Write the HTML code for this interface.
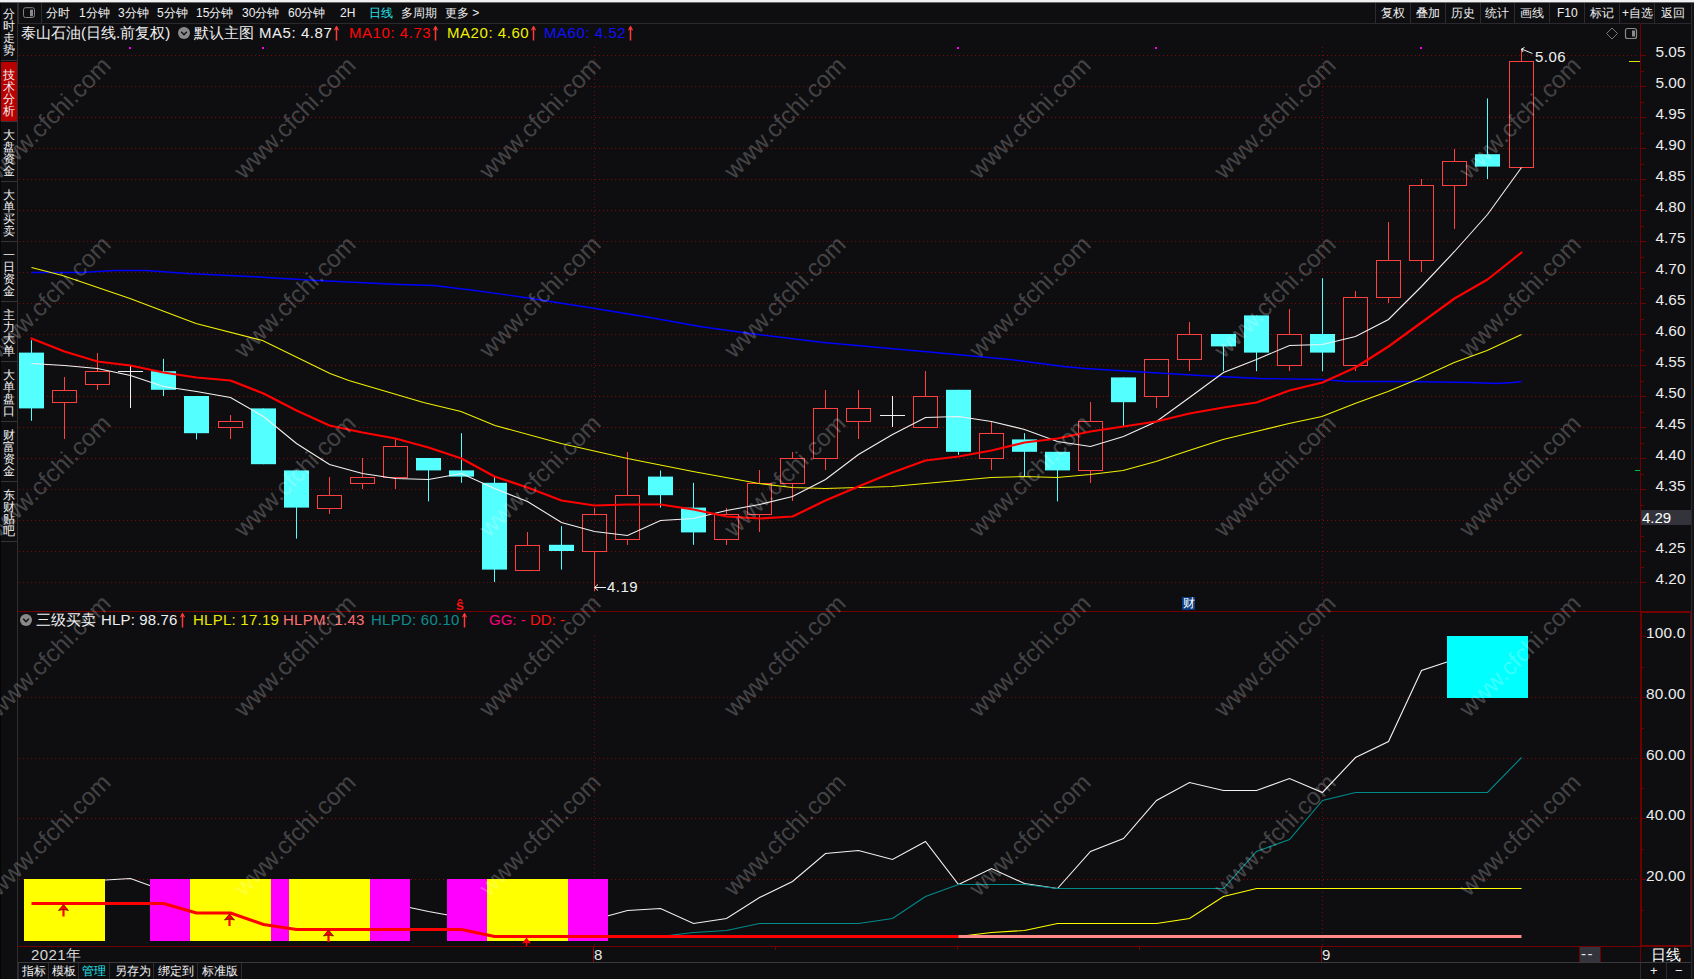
<!DOCTYPE html><html lang="zh"><head><meta charset="utf-8"><title>chart</title><style>
*{margin:0;padding:0;box-sizing:border-box}
html,body{width:1694px;height:979px;overflow:hidden;background:#0e0e11}
body{position:relative;font-family:"Liberation Sans",sans-serif;color:#f0f0f0}
.a{position:absolute;white-space:nowrap}
.t12{font-size:12px;line-height:14px}
.t15{font-size:15px;line-height:18px}
.ax{position:absolute;left:1655.5px;font-size:15.4px;line-height:16px;color:#ececec}
.tb{position:absolute;top:6px;font-size:12px;line-height:14px;color:#f0f0f0;white-space:nowrap}
.vs{position:absolute;top:3px;width:1px;height:20px;background:#2c2c30}
.side{position:absolute;left:1px;width:16px;height:60px;border-bottom:1px solid #333338;background-clip:padding-box;font-size:12px;line-height:12px;text-align:center;padding-top:7px;color:#f0f0f0}
.side span{display:block;height:12px}
.wm{position:absolute;font-size:24.2px;line-height:24px;color:rgba(255,255,255,.235);transform:translate(-50%,-50%) rotate(-45deg);white-space:nowrap;pointer-events:none}
.bt{position:absolute;top:964px;font-size:12px;line-height:14px;white-space:nowrap}
.bs{position:absolute;top:963px;width:1px;height:16px;background:#2c2c30}
</style></head><body>
<div class="a" style="left:0;top:0;width:1694px;height:2px;background:#f0f0f0"></div>
<div class="a" style="left:0;top:2px;width:1694px;height:1px;background:#6a6a6a"></div>
<div class="a" style="left:18px;top:23px;width:1673px;height:1px;background:#2a2a2e"></div>
<div class="a" style="left:1691px;top:3px;width:1px;height:976px;background:#2a2a2e"></div><div class="a" style="left:1692px;top:3px;width:2px;height:976px;background:#151517"></div>
<div class="a" style="left:17px;top:3px;width:1px;height:976px;background:#2e2e33"></div>
<div class="a" style="left:0;top:3px;width:1px;height:976px;background:#050506"></div>
<div class="side" style="top:3px;height:58px;padding-top:5px;"><span>分</span><span>时</span><span>走</span><span>势</span></div>
<div class="side" style="top:62px;background:#b80000;"><span>技</span><span>术</span><span>分</span><span>析</span></div>
<div class="side" style="top:122px;"><span>大</span><span>盘</span><span>资</span><span>金</span></div>
<div class="side" style="top:182px;"><span>大</span><span>单</span><span>买</span><span>卖</span></div>
<div class="side" style="top:242px;"><span>一</span><span>日</span><span>资</span><span>金</span></div>
<div class="side" style="top:302px;"><span>主</span><span>力</span><span>大</span><span>单</span></div>
<div class="side" style="top:362px;"><span>大</span><span>单</span><span>盘</span><span>口</span></div>
<div class="side" style="top:422px;"><span>财</span><span>富</span><span>资</span><span>金</span></div>
<div class="side" style="top:482px;"><span>东</span><span>财</span><span>贴</span><span>吧</span></div>
<svg class="a" style="left:22px;top:7px" width="14" height="12"><rect x="1.5" y="0.7" width="11" height="9.8" rx="2" fill="none" stroke="#808080" stroke-width="1"/><rect x="8" y="2.7" width="3" height="6.6" fill="#8a8a8a"/></svg>
<div class="vs" style="left:41px"></div><div class="vs" style="left:18px"></div>
<div class="tb" style="left:46px;">分时</div>
<div class="tb" style="left:79px;">1分钟</div>
<div class="tb" style="left:118px;">3分钟</div>
<div class="tb" style="left:157px;">5分钟</div>
<div class="tb" style="left:196px;">15分钟</div>
<div class="tb" style="left:242px;">30分钟</div>
<div class="tb" style="left:288px;">60分钟</div>
<div class="tb" style="left:340px;">2H</div>
<div class="tb" style="left:369px;color:#22e6ee">日线</div>
<div class="tb" style="left:401px;">多周期</div>
<div class="tb" style="left:445px;">更多 &gt;</div>
<div class="vs" style="left:1375px"></div>
<div class="vs" style="left:1410px"></div>
<div class="vs" style="left:1445px"></div>
<div class="vs" style="left:1480px"></div>
<div class="vs" style="left:1514px"></div>
<div class="vs" style="left:1549px"></div>
<div class="vs" style="left:1584px"></div>
<div class="vs" style="left:1619px"></div>
<div class="vs" style="left:1654px"></div>
<div class="vs" style="left:1691px"></div>
<div class="tb" style="left:1381px">复权</div>
<div class="tb" style="left:1416px">叠加</div>
<div class="tb" style="left:1451px">历史</div>
<div class="tb" style="left:1485px">统计</div>
<div class="tb" style="left:1520px">画线</div>
<div class="tb" style="left:1557px">F10</div>
<div class="tb" style="left:1590px">标记</div>
<div class="tb" style="left:1622px">+自选</div>
<div class="tb" style="left:1661px">返回</div>
<div class="a t15" style="left:21px;top:24px">泰山石油(日线.前复权)</div>
<svg class="a" style="left:178px;top:27px" width="12" height="12"><circle cx="6" cy="6" r="6" fill="#8a8a8a"/><path d="M3.2 4.8 L6 7.8 L8.8 4.8" stroke="#0e0e11" stroke-width="1.4" fill="none"/></svg>
<div class="a t15" style="left:194px;top:24px">默认主图</div>
<div class="a t15" style="left:259px;top:24px"><span style="letter-spacing:.55px">MA5: 4.87</span><svg width="7" height="15" viewBox="0 0 7 15" style="vertical-align:-2.5px;margin-left:1px"><path d="M3.5 1 V14.5" stroke="#ff3838" stroke-width="1.5" fill="none"/><path d="M1.5 4.2 L3.5 0.6 L5.5 4.2" stroke="#ff3838" stroke-width="1.2" fill="none"/></svg></div>
<div class="a t15" style="left:349px;top:24px;color:#ff0808"><span style="letter-spacing:.55px">MA10: 4.73</span><svg width="7" height="15" viewBox="0 0 7 15" style="vertical-align:-2.5px;margin-left:1px"><path d="M3.5 1 V14.5" stroke="#ff3838" stroke-width="1.5" fill="none"/><path d="M1.5 4.2 L3.5 0.6 L5.5 4.2" stroke="#ff3838" stroke-width="1.2" fill="none"/></svg></div>
<div class="a t15" style="left:447px;top:24px;color:#f0f000"><span style="letter-spacing:.55px">MA20: 4.60</span><svg width="7" height="15" viewBox="0 0 7 15" style="vertical-align:-2.5px;margin-left:1px"><path d="M3.5 1 V14.5" stroke="#ff3838" stroke-width="1.5" fill="none"/><path d="M1.5 4.2 L3.5 0.6 L5.5 4.2" stroke="#ff3838" stroke-width="1.2" fill="none"/></svg></div>
<div class="a t15" style="left:544px;top:24px;color:#1010ff"><span style="letter-spacing:.55px">MA60: 4.52</span><svg width="7" height="15" viewBox="0 0 7 15" style="vertical-align:-2.5px;margin-left:1px"><path d="M3.5 1 V14.5" stroke="#ff3838" stroke-width="1.5" fill="none"/><path d="M1.5 4.2 L3.5 0.6 L5.5 4.2" stroke="#ff3838" stroke-width="1.2" fill="none"/></svg></div>
<svg class="a" style="left:1605px;top:27px" width="34" height="14"><path d="M7 1 L12.5 6.5 L7 12 L1.5 6.5 Z" fill="none" stroke="#777" stroke-width="1"/><rect x="20.5" y="1.5" width="11" height="10" rx="2" fill="none" stroke="#8a8a8a" stroke-width="1.2"/><rect x="27" y="3.5" width="3" height="6" fill="#8a8a8a"/></svg>
<svg class="a" style="left:0;top:0" width="1694" height="979" viewBox="0 0 1694 979" shape-rendering="auto"><line x1="19" y1="55.5" x2="1637" y2="55.5" stroke="#780a0a" stroke-dasharray="1 3" stroke-dashoffset="0"/>
<line x1="19" y1="86.5" x2="1637" y2="86.5" stroke="#780a0a" stroke-dasharray="1 3" stroke-dashoffset="0"/>
<line x1="19" y1="117.5" x2="1637" y2="117.5" stroke="#780a0a" stroke-dasharray="1 3" stroke-dashoffset="0"/>
<line x1="19" y1="148.5" x2="1637" y2="148.5" stroke="#780a0a" stroke-dasharray="1 3" stroke-dashoffset="0"/>
<line x1="19" y1="179.5" x2="1637" y2="179.5" stroke="#780a0a" stroke-dasharray="1 3" stroke-dashoffset="0"/>
<line x1="19" y1="210.5" x2="1637" y2="210.5" stroke="#780a0a" stroke-dasharray="1 3" stroke-dashoffset="0"/>
<line x1="19" y1="241.5" x2="1637" y2="241.5" stroke="#780a0a" stroke-dasharray="1 3" stroke-dashoffset="0"/>
<line x1="19" y1="272.5" x2="1637" y2="272.5" stroke="#780a0a" stroke-dasharray="1 3" stroke-dashoffset="0"/>
<line x1="19" y1="303.5" x2="1637" y2="303.5" stroke="#780a0a" stroke-dasharray="1 3" stroke-dashoffset="0"/>
<line x1="19" y1="334.5" x2="1637" y2="334.5" stroke="#780a0a" stroke-dasharray="1 3" stroke-dashoffset="0"/>
<line x1="19" y1="365.5" x2="1637" y2="365.5" stroke="#780a0a" stroke-dasharray="1 3" stroke-dashoffset="0"/>
<line x1="19" y1="396.5" x2="1637" y2="396.5" stroke="#780a0a" stroke-dasharray="1 3" stroke-dashoffset="0"/>
<line x1="19" y1="427.5" x2="1637" y2="427.5" stroke="#780a0a" stroke-dasharray="1 3" stroke-dashoffset="0"/>
<line x1="19" y1="458.5" x2="1637" y2="458.5" stroke="#780a0a" stroke-dasharray="1 3" stroke-dashoffset="0"/>
<line x1="19" y1="489.5" x2="1637" y2="489.5" stroke="#780a0a" stroke-dasharray="1 3" stroke-dashoffset="0"/>
<line x1="19" y1="520.5" x2="1637" y2="520.5" stroke="#780a0a" stroke-dasharray="1 3" stroke-dashoffset="0"/>
<line x1="19" y1="551.5" x2="1637" y2="551.5" stroke="#780a0a" stroke-dasharray="1 3" stroke-dashoffset="0"/>
<line x1="19" y1="582.5" x2="1637" y2="582.5" stroke="#780a0a" stroke-dasharray="1 3" stroke-dashoffset="0"/>
<line x1="19" y1="879.5" x2="1637" y2="879.5" stroke="#780a0a" stroke-dasharray="1 3"/>
<line x1="19" y1="818.5" x2="1637" y2="818.5" stroke="#780a0a" stroke-dasharray="1 3"/>
<line x1="19" y1="758.5" x2="1637" y2="758.5" stroke="#780a0a" stroke-dasharray="1 3"/>
<line x1="19" y1="697.5" x2="1637" y2="697.5" stroke="#780a0a" stroke-dasharray="1 3"/>
<line x1="594.5" y1="47" x2="594.5" y2="611" stroke="#780a0a" stroke-dasharray="1 3"/>
<line x1="594.5" y1="636" x2="594.5" y2="946" stroke="#780a0a" stroke-dasharray="1 3"/>
<line x1="1322.5" y1="47" x2="1322.5" y2="611" stroke="#780a0a" stroke-dasharray="1 3"/>
<line x1="1322.5" y1="636" x2="1322.5" y2="946" stroke="#780a0a" stroke-dasharray="1 3"/>
<rect x="31" y="340.2" width="1" height="80.6" fill="#54ffff"/>
<rect x="19" y="352.6" width="25" height="55.8" fill="#54ffff"/>
<rect x="64" y="377" width="1" height="13" fill="#ff4040"/>
<rect x="64" y="402" width="1" height="37" fill="#ff4040"/>
<rect x="52.5" y="390.5" width="24" height="12" fill="none" stroke="#ff4040"/>
<rect x="97" y="353" width="1" height="18" fill="#ff4040"/>
<rect x="97" y="384" width="1" height="6" fill="#ff4040"/>
<rect x="85.5" y="371.5" width="24" height="13" fill="none" stroke="#ff4040"/>
<rect x="130" y="365" width="1" height="43" fill="#f0f0f0"/>
<rect x="118" y="371" width="25" height="1" fill="#f0f0f0"/>
<rect x="163" y="358.8" width="1" height="37.2" fill="#54ffff"/>
<rect x="151" y="371.2" width="25" height="18.6" fill="#54ffff"/>
<rect x="196" y="396.0" width="1" height="43.4" fill="#54ffff"/>
<rect x="184" y="396.0" width="25" height="37.2" fill="#54ffff"/>
<rect x="230" y="415" width="1" height="6" fill="#ff4040"/>
<rect x="230" y="427" width="1" height="12" fill="#ff4040"/>
<rect x="218.5" y="421.5" width="24" height="6" fill="none" stroke="#ff4040"/>
<rect x="263" y="408.4" width="1" height="55.8" fill="#54ffff"/>
<rect x="251" y="408.4" width="25" height="55.8" fill="#54ffff"/>
<rect x="296" y="470.4" width="1" height="68.2" fill="#54ffff"/>
<rect x="284" y="470.4" width="25" height="37.2" fill="#54ffff"/>
<rect x="329" y="477" width="1" height="18" fill="#ff4040"/>
<rect x="329" y="508" width="1" height="6" fill="#ff4040"/>
<rect x="317.5" y="495.5" width="24" height="13" fill="none" stroke="#ff4040"/>
<rect x="362" y="458" width="1" height="19" fill="#ff4040"/>
<rect x="362" y="483" width="1" height="6" fill="#ff4040"/>
<rect x="350.5" y="477.5" width="24" height="6" fill="none" stroke="#ff4040"/>
<rect x="395" y="439" width="1" height="7" fill="#ff4040"/>
<rect x="395" y="477" width="1" height="12" fill="#ff4040"/>
<rect x="383.5" y="446.5" width="24" height="31" fill="none" stroke="#ff4040"/>
<rect x="428" y="458.0" width="1" height="43.4" fill="#54ffff"/>
<rect x="416" y="458.0" width="25" height="12.4" fill="#54ffff"/>
<rect x="461" y="433.2" width="1" height="49.6" fill="#54ffff"/>
<rect x="449" y="470.4" width="25" height="6.2" fill="#54ffff"/>
<rect x="494" y="476.6" width="1" height="105.4" fill="#54ffff"/>
<rect x="482" y="482.8" width="25" height="86.8" fill="#54ffff"/>
<rect x="527" y="532" width="1" height="13" fill="#ff4040"/>
<rect x="515.5" y="545.5" width="24" height="25" fill="none" stroke="#ff4040"/>
<rect x="561" y="526.2" width="1" height="43.4" fill="#54ffff"/>
<rect x="549" y="544.8" width="25" height="6.2" fill="#54ffff"/>
<rect x="594" y="508" width="1" height="6" fill="#ff4040"/>
<rect x="594" y="551" width="1" height="40" fill="#ff4040"/>
<rect x="582.5" y="514.5" width="24" height="37" fill="none" stroke="#ff4040"/>
<rect x="627" y="452" width="1" height="43" fill="#ff4040"/>
<rect x="627" y="539" width="1" height="6" fill="#ff4040"/>
<rect x="615.5" y="495.5" width="24" height="44" fill="none" stroke="#ff4040"/>
<rect x="660" y="470.4" width="1" height="37.2" fill="#54ffff"/>
<rect x="648" y="476.6" width="25" height="18.6" fill="#54ffff"/>
<rect x="693" y="482.8" width="1" height="62.0" fill="#54ffff"/>
<rect x="681" y="507.6" width="25" height="24.8" fill="#54ffff"/>
<rect x="726" y="508" width="1" height="6" fill="#ff4040"/>
<rect x="726" y="539" width="1" height="6" fill="#ff4040"/>
<rect x="714.5" y="514.5" width="24" height="25" fill="none" stroke="#ff4040"/>
<rect x="759" y="470" width="1" height="13" fill="#ff4040"/>
<rect x="759" y="514" width="1" height="18" fill="#ff4040"/>
<rect x="747.5" y="483.5" width="24" height="31" fill="none" stroke="#ff4040"/>
<rect x="792" y="452" width="1" height="6" fill="#ff4040"/>
<rect x="792" y="483" width="1" height="18" fill="#ff4040"/>
<rect x="780.5" y="458.5" width="24" height="25" fill="none" stroke="#ff4040"/>
<rect x="825" y="390" width="1" height="18" fill="#ff4040"/>
<rect x="825" y="458" width="1" height="12" fill="#ff4040"/>
<rect x="813.5" y="408.5" width="24" height="50" fill="none" stroke="#ff4040"/>
<rect x="858" y="390" width="1" height="18" fill="#ff4040"/>
<rect x="858" y="421" width="1" height="18" fill="#ff4040"/>
<rect x="846.5" y="408.5" width="24" height="13" fill="none" stroke="#ff4040"/>
<rect x="892" y="396" width="1" height="31" fill="#f0f0f0"/>
<rect x="880" y="415" width="25" height="1" fill="#f0f0f0"/>
<rect x="925" y="371" width="1" height="25" fill="#ff4040"/>
<rect x="913.5" y="396.5" width="24" height="31" fill="none" stroke="#ff4040"/>
<rect x="958" y="389.8" width="1" height="65.1" fill="#54ffff"/>
<rect x="946" y="389.8" width="25" height="62.0" fill="#54ffff"/>
<rect x="991" y="421" width="1" height="12" fill="#ff4040"/>
<rect x="991" y="458" width="1" height="12" fill="#ff4040"/>
<rect x="979.5" y="433.5" width="24" height="25" fill="none" stroke="#ff4040"/>
<rect x="1024" y="433.2" width="1" height="43.4" fill="#54ffff"/>
<rect x="1012" y="439.4" width="25" height="12.4" fill="#54ffff"/>
<rect x="1057" y="451.8" width="1" height="49.6" fill="#54ffff"/>
<rect x="1045" y="451.8" width="25" height="18.6" fill="#54ffff"/>
<rect x="1090" y="402" width="1" height="19" fill="#ff4040"/>
<rect x="1090" y="470" width="1" height="13" fill="#ff4040"/>
<rect x="1078.5" y="421.5" width="24" height="49" fill="none" stroke="#ff4040"/>
<rect x="1123" y="377.4" width="1" height="49.6" fill="#54ffff"/>
<rect x="1111" y="377.4" width="25" height="24.8" fill="#54ffff"/>
<rect x="1156" y="396" width="1" height="12" fill="#ff4040"/>
<rect x="1144.5" y="359.5" width="24" height="37" fill="none" stroke="#ff4040"/>
<rect x="1189" y="322" width="1" height="12" fill="#ff4040"/>
<rect x="1189" y="359" width="1" height="12" fill="#ff4040"/>
<rect x="1177.5" y="334.5" width="24" height="25" fill="none" stroke="#ff4040"/>
<rect x="1223" y="334.0" width="1" height="37.2" fill="#54ffff"/>
<rect x="1211" y="334.0" width="25" height="12.4" fill="#54ffff"/>
<rect x="1256" y="315.4" width="1" height="55.8" fill="#54ffff"/>
<rect x="1244" y="315.4" width="25" height="37.2" fill="#54ffff"/>
<rect x="1289" y="309" width="1" height="25" fill="#ff4040"/>
<rect x="1289" y="365" width="1" height="6" fill="#ff4040"/>
<rect x="1277.5" y="334.5" width="24" height="31" fill="none" stroke="#ff4040"/>
<rect x="1322" y="278.2" width="1" height="93.0" fill="#54ffff"/>
<rect x="1310" y="334.0" width="25" height="18.6" fill="#54ffff"/>
<rect x="1355" y="291" width="1" height="6" fill="#ff4040"/>
<rect x="1355" y="365" width="1" height="6" fill="#ff4040"/>
<rect x="1343.5" y="297.5" width="24" height="68" fill="none" stroke="#ff4040"/>
<rect x="1388" y="222" width="1" height="38" fill="#ff4040"/>
<rect x="1388" y="297" width="1" height="6" fill="#ff4040"/>
<rect x="1376.5" y="260.5" width="24" height="37" fill="none" stroke="#ff4040"/>
<rect x="1421" y="179" width="1" height="6" fill="#ff4040"/>
<rect x="1421" y="260" width="1" height="12" fill="#ff4040"/>
<rect x="1409.5" y="185.5" width="24" height="75" fill="none" stroke="#ff4040"/>
<rect x="1454" y="149" width="1" height="12" fill="#ff4040"/>
<rect x="1454" y="185" width="1" height="44" fill="#ff4040"/>
<rect x="1442.5" y="161.5" width="24" height="24" fill="none" stroke="#ff4040"/>
<rect x="1487" y="98.4" width="1" height="80.6" fill="#54ffff"/>
<rect x="1475" y="154.2" width="25" height="12.4" fill="#54ffff"/>
<rect x="1521" y="49" width="1" height="12" fill="#ff4040"/>
<rect x="1509.5" y="61.5" width="24" height="106" fill="none" stroke="#ff4040"/>
<polyline points="31.5,272.5 82.0,272.5 115.0,270.5 146.0,270.5 187.5,273.5 250.0,276.5 317.0,280.5 400.0,284.5 433.8,285.5 475.0,290.5 525.0,297.5 595.0,308.5 650.0,317.5 700.0,326.5 750.0,333.5 823.5,342.5 935.0,352.5 1010.0,359.5 1063.5,366.5 1085.0,368.5 1150.0,372.5 1200.0,375.5 1260.0,378.5 1322.5,379.5 1347.0,381.5 1404.0,381.5 1470.0,382.5 1496.0,383.5 1513.0,382.5 1521.5,381.5" fill="none" stroke="#0000ff" stroke-width="1.4" />
<polyline points="31.5,267.5 62.5,275.5 130.0,298.5 196.0,323.5 262.5,340.5 330.0,373.5 348.8,380.5 423.5,402.5 461.0,411.5 495.0,425.5 561.0,443.5 627.5,458.5 693.0,471.5 759.0,483.5 792.0,487.5 825.0,488.5 892.0,486.5 925.0,483.5 958.0,480.5 991.0,477.5 1024.0,476.5 1057.0,477.5 1090.0,474.5 1123.0,470.5 1156.0,461.5 1189.0,450.5 1223.0,439.5 1256.0,431.5 1289.0,423.5 1322.0,416.5 1355.0,403.5 1388.0,391.5 1421.5,377.5 1454.2,362.5 1487.1,350.5 1521.5,334.5" fill="none" stroke="#f0f000" stroke-width="1.1" />
<polyline points="31.5,363.5 64.5,365.5 97.5,368.5 130.5,375.5 163.5,386.5 196.5,391.5 230.5,397.5 263.5,416.5 296.5,443.5 329.5,464.5 362.5,473.5 395.5,478.5 428.5,479.5 461.5,473.5 494.5,488.5 527.5,501.5 561.5,522.5 594.5,531.5 627.5,535.5 660.5,520.5 693.5,518.5 726.5,510.5 759.5,504.5 792.5,496.5 825.5,479.5 858.5,454.5 892.5,434.5 925.5,417.5 958.5,416.5 991.5,421.5 1024.5,429.5 1057.5,441.5 1090.5,446.5 1123.5,436.5 1156.5,421.5 1189.5,397.5 1223.5,372.5 1256.5,359.5 1289.5,345.5 1322.5,344.5 1355.5,336.5 1388.5,319.5 1421.5,286.5 1454.5,251.5 1487.5,214.5 1521.5,167.5" fill="none" stroke="#f2f2f2" stroke-width="1.1" />
<polyline points="31.5,338.5 64.5,351.5 97.5,361.5 130.5,365.5 163.5,372.5 196.5,377.5 230.5,380.5 263.5,393.5 296.5,410.5 329.5,425.5 362.5,432.5 395.5,438.5 428.5,447.5 461.5,458.5 494.5,476.5 527.5,487.5 561.5,500.5 594.5,505.5 627.5,504.5 660.5,504.5 693.5,509.5 726.5,516.5 759.5,518.5 792.5,516.5 825.5,500.5 858.5,486.5 892.5,472.5 925.5,460.5 958.5,456.5 991.5,450.5 1024.5,442.5 1057.5,438.5 1090.5,431.5 1123.5,426.5 1156.5,421.5 1189.5,413.5 1223.5,407.5 1256.5,402.5 1289.5,390.5 1322.5,382.5 1355.5,367.5 1388.5,346.5 1421.5,322.5 1454.5,298.5 1487.5,279.5 1521.5,252.5" fill="none" stroke="#ff0000" stroke-width="2.2" stroke-linejoin="round" stroke-linecap="round"/>
<polyline points="97.5,880.5 130.5,878.5 163.5,890.5" fill="none" stroke="#f2f2f2" stroke-width="1.1" />
<polyline points="395.5,904.5 428.5,911.5 461.5,917.5" fill="none" stroke="#f2f2f2" stroke-width="1.1" />
<polyline points="594.5,919.5 627.5,910.5 660.5,908.5 693.5,923.5 726.5,918.5 759.5,897.5 792.5,881.5 825.5,853.5 858.5,850.5 892.5,859.5 925.5,841.5 958.5,884.5 991.5,868.5 1024.5,883.5 1057.5,888.5 1090.5,851.5 1123.5,838.5 1156.5,800.5 1189.5,782.5 1223.5,790.5 1256.5,790.5 1289.5,778.5 1322.5,792.5 1355.5,757.5 1388.5,741.5 1421.5,670.5 1454.5,659.5 1487.5,650.5 1521.5,640.5" fill="none" stroke="#f2f2f2" stroke-width="1.1" />
<polyline points="163.5,890.5 196.5,902.5" fill="none" stroke="#f2f2f2" stroke-width="1.1" />
<polyline points="660.5,936.5 693.5,932.5 726.5,930.5 759.5,923.5 792.5,923.5 825.5,923.5 858.5,923.5 892.5,918.5 925.5,896.5 958.5,884.5 991.5,884.5 1024.5,884.5 1057.5,888.5 1090.5,888.5 1123.5,888.5 1156.5,888.5 1189.5,888.5 1223.5,888.5 1256.5,851.5 1289.5,839.5 1322.5,800.5 1355.5,792.5 1388.5,792.5 1421.5,792.5 1454.5,792.5 1487.5,792.5 1521.5,757.5" fill="none" stroke="#008b8b" stroke-width="1.1" />
<polyline points="958.5,936.5 991.5,932.5 1024.5,930.5 1057.5,923.5 1090.5,923.5 1123.5,923.5 1156.5,923.5 1189.5,918.5 1223.5,896.5 1256.5,888.5 1289.5,888.5 1322.5,888.5 1355.5,888.5 1388.5,888.5 1421.5,888.5 1454.5,888.5 1487.5,888.5 1521.5,888.5" fill="none" stroke="#ffff00" stroke-width="1.1" />
<rect x="150" y="879" width="161" height="62" fill="#ff00ff"/>
<rect x="249" y="879" width="161" height="62" fill="#ff00ff"/>
<rect x="447" y="879" width="161" height="62" fill="#ff00ff"/>
<rect x="24" y="879" width="81" height="62" fill="#ffff00"/>
<rect x="190" y="879" width="81" height="62" fill="#ffff00"/>
<rect x="289" y="879" width="81" height="62" fill="#ffff00"/>
<rect x="487" y="879" width="81" height="62" fill="#ffff00"/>
<rect x="1447" y="636" width="81" height="62" fill="#00ffff"/>
<polyline points="31.5,903.5 64.5,903.5 97.5,903.5 130.5,903.5 163.5,903.5 196.5,913.0 230.5,913.0 263.5,924.5 296.5,929.5 329.5,929.5 362.5,929.5 395.5,929.5 428.5,929.5 461.5,929.5 494.5,936.5 527.5,936.5 561.5,936.5 594.5,936.5 627.5,936.5 660.5,936.5 693.5,936.5 726.5,936.5 759.5,936.5 792.5,936.5 825.5,936.5 858.5,936.5 892.5,936.5 925.5,936.5 958.5,936.5" fill="none" stroke="#ff0000" stroke-width="3" stroke-linejoin="round"/>
<polyline points="958.5,936.5 991.5,936.5 1024.5,936.5 1057.5,936.5 1090.5,936.5 1123.5,936.5 1156.5,936.5 1189.5,936.5 1223.5,936.5 1256.5,936.5 1289.5,936.5 1322.5,936.5 1355.5,936.5 1388.5,936.5 1421.5,936.5 1454.5,936.5 1487.5,936.5 1521.5,936.5" fill="none" stroke="#ff8a8a" stroke-width="3" />
<path d="M63.5 909 V916.5" stroke="#ff0000" stroke-width="2.2" fill="none"/>
<path d="M63.5 904.5 L68.5 910.5 L63.5 909.5 L58.5 910.5 Z" fill="#ff0000" stroke="#500" stroke-width=".7"/>
<path d="M229.5 918.5 V926.0" stroke="#ff0000" stroke-width="2.2" fill="none"/>
<path d="M229.5 914.0 L234.5 920.0 L229.5 919.0 L224.5 920.0 Z" fill="#ff0000" stroke="#500" stroke-width=".7"/>
<path d="M328.5 934.5 V942.0" stroke="#ff0000" stroke-width="2.2" fill="none"/>
<path d="M328.5 930.0 L333.5 936.0 L328.5 935.0 L323.5 936.0 Z" fill="#ff0000" stroke="#500" stroke-width=".7"/>
<path d="M526.5 937.5 L531 943.5 L527.3 943 V946 H525.7 V943 L522 943.5 Z" fill="#ff0000"/>
<rect x="18" y="611" width="1673" height="1" fill="#720000"/>
<rect x="18" y="946" width="1673" height="1" fill="#720000"/>
<rect x="1640" y="23" width="1" height="924" fill="#700000"/>
<rect x="1690" y="611" width="1" height="336" fill="#720000"/>
<rect x="1641" y="612" width="49" height="1" fill="#720000"/>
<rect x="1641" y="945" width="49" height="1" fill="#720000"/>
<rect x="1641" y="612" width="1" height="334" fill="#720000"/>
<rect x="1640" y="947" width="1" height="15" fill="#700000"/>
<rect x="1579" y="947" width="1" height="15" fill="#700000"/>
<rect x="1600" y="947" width="1" height="15" fill="#700000"/>
<rect x="1641" y="55" width="5" height="1" fill="#700000"/>
<rect x="1641" y="71" width="3" height="1" fill="#700000"/>
<rect x="1641" y="86" width="5" height="1" fill="#700000"/>
<rect x="1641" y="102" width="3" height="1" fill="#700000"/>
<rect x="1641" y="117" width="5" height="1" fill="#700000"/>
<rect x="1641" y="133" width="3" height="1" fill="#700000"/>
<rect x="1641" y="148" width="5" height="1" fill="#700000"/>
<rect x="1641" y="164" width="3" height="1" fill="#700000"/>
<rect x="1641" y="179" width="5" height="1" fill="#700000"/>
<rect x="1641" y="195" width="3" height="1" fill="#700000"/>
<rect x="1641" y="210" width="5" height="1" fill="#700000"/>
<rect x="1641" y="226" width="3" height="1" fill="#700000"/>
<rect x="1641" y="241" width="5" height="1" fill="#700000"/>
<rect x="1641" y="257" width="3" height="1" fill="#700000"/>
<rect x="1641" y="272" width="5" height="1" fill="#700000"/>
<rect x="1641" y="288" width="3" height="1" fill="#700000"/>
<rect x="1641" y="303" width="5" height="1" fill="#700000"/>
<rect x="1641" y="319" width="3" height="1" fill="#700000"/>
<rect x="1641" y="334" width="5" height="1" fill="#700000"/>
<rect x="1641" y="350" width="3" height="1" fill="#700000"/>
<rect x="1641" y="365" width="5" height="1" fill="#700000"/>
<rect x="1641" y="381" width="3" height="1" fill="#700000"/>
<rect x="1641" y="396" width="5" height="1" fill="#700000"/>
<rect x="1641" y="412" width="3" height="1" fill="#700000"/>
<rect x="1641" y="427" width="5" height="1" fill="#700000"/>
<rect x="1641" y="443" width="3" height="1" fill="#700000"/>
<rect x="1641" y="458" width="5" height="1" fill="#700000"/>
<rect x="1641" y="474" width="3" height="1" fill="#700000"/>
<rect x="1641" y="489" width="5" height="1" fill="#700000"/>
<rect x="1641" y="505" width="3" height="1" fill="#700000"/>
<rect x="1641" y="520" width="5" height="1" fill="#700000"/>
<rect x="1641" y="536" width="3" height="1" fill="#700000"/>
<rect x="1641" y="551" width="5" height="1" fill="#700000"/>
<rect x="1641" y="567" width="3" height="1" fill="#700000"/>
<rect x="1641" y="582" width="5" height="1" fill="#700000"/>
<rect x="1641" y="910" width="3" height="1" fill="#700000"/>
<rect x="1641" y="879" width="5" height="1" fill="#700000"/>
<rect x="1641" y="849" width="3" height="1" fill="#700000"/>
<rect x="1641" y="818" width="5" height="1" fill="#700000"/>
<rect x="1641" y="788" width="3" height="1" fill="#700000"/>
<rect x="1641" y="758" width="5" height="1" fill="#700000"/>
<rect x="1641" y="728" width="3" height="1" fill="#700000"/>
<rect x="1641" y="697" width="5" height="1" fill="#700000"/>
<rect x="1641" y="667" width="3" height="1" fill="#700000"/>
<rect x="1641" y="636" width="5" height="1" fill="#700000"/>
<rect x="1629" y="61" width="11" height="1" fill="#e0e000"/>
<rect x="1635" y="470" width="5" height="1" fill="#00c040"/>
<rect x="129" y="47" width="2" height="2" fill="#ff00ff"/>
<rect x="262" y="47" width="2" height="2" fill="#ff00ff"/>
<rect x="957" y="47" width="2" height="2" fill="#ff00ff"/>
<rect x="1155" y="47" width="2" height="2" fill="#ff00ff"/>
<rect x="1420" y="47" width="2" height="2" fill="#ff00ff"/>
<path d="M1532.5 53.5 L1521.5 49 M1524.5 47.5 L1521.5 49 L1523 52" stroke="#f0f0f0" fill="none" stroke-width="1"/>
<path d="M595 587.5 H606 M598 584.5 L594.5 587.5 L598 590.5" stroke="#f0f0f0" fill="none" stroke-width="1"/></svg>
<div class="ax" style="top:44px">5.05</div>
<div class="ax" style="top:75px">5.00</div>
<div class="ax" style="top:106px">4.95</div>
<div class="ax" style="top:137px">4.90</div>
<div class="ax" style="top:168px">4.85</div>
<div class="ax" style="top:199px">4.80</div>
<div class="ax" style="top:230px">4.75</div>
<div class="ax" style="top:261px">4.70</div>
<div class="ax" style="top:292px">4.65</div>
<div class="ax" style="top:323px">4.60</div>
<div class="ax" style="top:354px">4.55</div>
<div class="ax" style="top:385px">4.50</div>
<div class="ax" style="top:416px">4.45</div>
<div class="ax" style="top:447px">4.40</div>
<div class="ax" style="top:478px">4.35</div>
<div class="ax" style="top:509px">4.30</div>
<div class="ax" style="top:540px">4.25</div>
<div class="ax" style="top:571px">4.20</div>
<div class="ax" style="left:1646px;top:625px;letter-spacing:.2px">100.0</div>
<div class="ax" style="left:1646px;top:686px;letter-spacing:.2px">80.00</div>
<div class="ax" style="left:1646px;top:747px;letter-spacing:.2px">60.00</div>
<div class="ax" style="left:1646px;top:807px;letter-spacing:.2px">40.00</div>
<div class="ax" style="left:1646px;top:868px;letter-spacing:.2px">20.00</div>
<div class="a" style="left:1641px;top:510px;width:50px;height:15px;background:#33333b;font-size:15px;line-height:15px;color:#fff;padding-left:1px">4.29</div>
<div class="a t15" style="left:1535px;top:48px;letter-spacing:.5px">5.06</div>
<div class="a t15" style="left:607px;top:578px;letter-spacing:.5px">4.19</div>
<div class="a" style="left:1182px;top:597px;width:13px;height:13px;background:#0c3c80;color:#fff;font-size:12px;line-height:13px;text-align:center">财</div>
<div class="a" style="left:455px;top:598px;width:10px;color:#ff1010;font-size:14px;line-height:14px;font-weight:bold;text-align:center">ŝ</div>
<svg class="a" style="left:20px;top:614px" width="12" height="12"><circle cx="6" cy="6" r="6" fill="#8a8a8a"/><path d="M3.2 4.8 L6 7.8 L8.8 4.8" stroke="#0e0e11" stroke-width="1.4" fill="none"/></svg>
<div class="a t15" style="left:36px;top:611px">三级买卖</div>
<div class="a t15" style="left:101px;top:611px"><span style="letter-spacing:.15px">HLP: 98.76</span><svg width="7" height="15" viewBox="0 0 7 15" style="vertical-align:-2.5px;margin-left:1px"><path d="M3.5 1 V14.5" stroke="#ff3838" stroke-width="1.5" fill="none"/><path d="M1.5 4.2 L3.5 0.6 L5.5 4.2" stroke="#ff3838" stroke-width="1.2" fill="none"/></svg></div>
<div class="a t15" style="left:193px;top:611px;color:#e8e800"><span style="letter-spacing:.25px">HLPL: 17.19</span></div>
<div class="a t15" style="left:283px;top:611px;color:#ff7070"><span style="letter-spacing:.25px">HLPM: 1.43</span></div>
<div class="a t15" style="left:371px;top:611px;color:#0c8c8c"><span style="letter-spacing:.25px">HLPD: 60.10</span><svg width="7" height="15" viewBox="0 0 7 15" style="vertical-align:-2.5px;margin-left:1px"><path d="M3.5 1 V14.5" stroke="#ff3838" stroke-width="1.5" fill="none"/><path d="M1.5 4.2 L3.5 0.6 L5.5 4.2" stroke="#ff3838" stroke-width="1.2" fill="none"/></svg></div>
<div class="a t15" style="left:489px;top:611px;color:#f8007c">GG: -</div>
<div class="a t15" style="left:530px;top:611px;color:#ff1010">DD: -</div>
<div class="a" style="left:18px;top:962px;width:1673px;height:1px;background:#3a3a3e"></div>
<div class="a t15" style="left:31px;top:946px;color:#d8d8d8;letter-spacing:.4px">2021年</div>
<div class="a" style="left:593px;top:947px;width:1px;height:15px;background:#900"></div>
<div class="a t15" style="left:594px;top:946px;color:#e8e8e8">8</div>
<div class="a" style="left:1321px;top:947px;width:1px;height:15px;background:#900"></div>
<div class="a t15" style="left:1322px;top:946px;color:#e8e8e8">9</div>
<div class="a" style="left:1580px;top:947px;width:20px;height:15px;background:#34343c;color:#e8e8e8;font-size:15px;line-height:13px;letter-spacing:1.5px;padding-left:1px">--</div>
<div class="a" style="left:1651px;top:948px;font-size:14.5px;line-height:15px;color:#fff">日线</div>
<div class="a" style="left:775px;top:947px;width:1px;height:3px;background:#7c0000"></div>
<div class="a" style="left:957px;top:947px;width:1px;height:3px;background:#7c0000"></div>
<div class="a" style="left:1139px;top:947px;width:1px;height:3px;background:#7c0000"></div>
<div class="bs" style="left:18px"></div>
<div class="bs" style="left:48px"></div>
<div class="bs" style="left:78px"></div>
<div class="bs" style="left:109px"></div>
<div class="bs" style="left:153px"></div>
<div class="bs" style="left:197px"></div>
<div class="bs" style="left:241px"></div>
<div class="bt" style="left:22px;">指标</div>
<div class="bt" style="left:52px;">模板</div>
<div class="bt" style="left:82px;color:#22e6ee">管理</div>
<div class="bt" style="left:115px;">另存为</div>
<div class="bt" style="left:158px;">绑定到</div>
<div class="bt" style="left:202px;">标准版</div>
<div class="bs" style="left:1640px"></div><div class="bs" style="left:1666px"></div>
<div class="bt" style="left:1650px;top:964px;font-size:13px">+</div><div class="bt" style="left:1675px;top:964px;font-size:13px">−</div>
<div class="wm" style="left:49.5px;top:117.6px">www.cfchi.com</div>
<div class="wm" style="left:294.5px;top:117.6px">www.cfchi.com</div>
<div class="wm" style="left:539.5px;top:117.6px">www.cfchi.com</div>
<div class="wm" style="left:784.5px;top:117.6px">www.cfchi.com</div>
<div class="wm" style="left:1029.5px;top:117.6px">www.cfchi.com</div>
<div class="wm" style="left:1274.5px;top:117.6px">www.cfchi.com</div>
<div class="wm" style="left:1519.5px;top:117.6px">www.cfchi.com</div>
<div class="wm" style="left:1764.5px;top:117.6px">www.cfchi.com</div>
<div class="wm" style="left:49.5px;top:296.9px">www.cfchi.com</div>
<div class="wm" style="left:294.5px;top:296.9px">www.cfchi.com</div>
<div class="wm" style="left:539.5px;top:296.9px">www.cfchi.com</div>
<div class="wm" style="left:784.5px;top:296.9px">www.cfchi.com</div>
<div class="wm" style="left:1029.5px;top:296.9px">www.cfchi.com</div>
<div class="wm" style="left:1274.5px;top:296.9px">www.cfchi.com</div>
<div class="wm" style="left:1519.5px;top:296.9px">www.cfchi.com</div>
<div class="wm" style="left:1764.5px;top:296.9px">www.cfchi.com</div>
<div class="wm" style="left:49.5px;top:476.20000000000005px">www.cfchi.com</div>
<div class="wm" style="left:294.5px;top:476.20000000000005px">www.cfchi.com</div>
<div class="wm" style="left:539.5px;top:476.20000000000005px">www.cfchi.com</div>
<div class="wm" style="left:784.5px;top:476.20000000000005px">www.cfchi.com</div>
<div class="wm" style="left:1029.5px;top:476.20000000000005px">www.cfchi.com</div>
<div class="wm" style="left:1274.5px;top:476.20000000000005px">www.cfchi.com</div>
<div class="wm" style="left:1519.5px;top:476.20000000000005px">www.cfchi.com</div>
<div class="wm" style="left:1764.5px;top:476.20000000000005px">www.cfchi.com</div>
<div class="wm" style="left:49.5px;top:655.5000000000001px">www.cfchi.com</div>
<div class="wm" style="left:294.5px;top:655.5000000000001px">www.cfchi.com</div>
<div class="wm" style="left:539.5px;top:655.5000000000001px">www.cfchi.com</div>
<div class="wm" style="left:784.5px;top:655.5000000000001px">www.cfchi.com</div>
<div class="wm" style="left:1029.5px;top:655.5000000000001px">www.cfchi.com</div>
<div class="wm" style="left:1274.5px;top:655.5000000000001px">www.cfchi.com</div>
<div class="wm" style="left:1519.5px;top:655.5000000000001px">www.cfchi.com</div>
<div class="wm" style="left:1764.5px;top:655.5000000000001px">www.cfchi.com</div>
<div class="wm" style="left:49.5px;top:834.8000000000001px">www.cfchi.com</div>
<div class="wm" style="left:294.5px;top:834.8000000000001px">www.cfchi.com</div>
<div class="wm" style="left:539.5px;top:834.8000000000001px">www.cfchi.com</div>
<div class="wm" style="left:784.5px;top:834.8000000000001px">www.cfchi.com</div>
<div class="wm" style="left:1029.5px;top:834.8000000000001px">www.cfchi.com</div>
<div class="wm" style="left:1274.5px;top:834.8000000000001px">www.cfchi.com</div>
<div class="wm" style="left:1519.5px;top:834.8000000000001px">www.cfchi.com</div>
<div class="wm" style="left:1764.5px;top:834.8000000000001px">www.cfchi.com</div>
</body></html>
